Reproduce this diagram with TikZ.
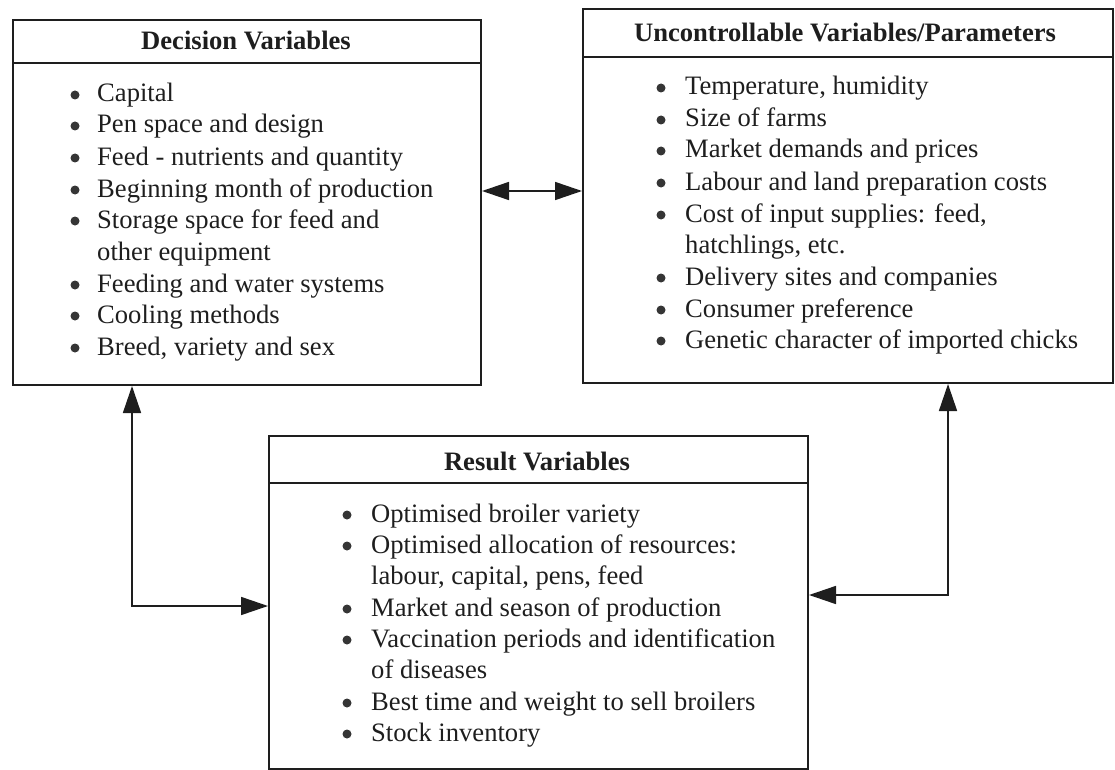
\documentclass[tikz,border=0pt]{standalone}
\usepackage{fontspec}
\setmainfont{Liberation Serif}
\usetikzlibrary{arrows.meta}
\definecolor{ink}{RGB}{30,30,30}
\tikzset{
  box/.style={draw=ink, line width=2pt, rectangle, inner sep=0pt, anchor=north west},
  hdr/.style={font=\bfseries\fontsize{26.6}{32}\selectfont, anchor=base, inner sep=0pt, text=ink},
  txt/.style={font=\fontsize{26.6}{32}\selectfont, anchor=base west, inner sep=0pt, text=ink},
  bul/.style={circle, fill=ink!90, draw=none, minimum size=9pt, inner sep=0pt},
  rule/.style={draw=ink, line width=2pt},
  conn/.style={draw=ink, line width=1.6pt, {Triangle[length=27pt,width=18pt]}-{Triangle[length=27pt,width=18pt]}}
}
\begin{document}
\begin{tikzpicture}[x=1pt,y=-1pt]
\useasboundingbox (0,0) rectangle (1115,770);
% boxes
\node[box, minimum width=468pt, minimum height=365pt] (dec) at (12,19) {};
\node[box, minimum width=530pt, minimum height=374pt] (unc) at (582,8) {};
\node[box, minimum width=539pt, minimum height=333pt] (res) at (268,435) {};
% header rules
\draw[rule] ([yshift=-44pt]dec.north west) -- ([yshift=-44pt]dec.north east);
\draw[rule] ([yshift=-49pt]unc.north west) -- ([yshift=-49pt]unc.north east);
\draw[rule] ([yshift=-48pt]res.north west) -- ([yshift=-48pt]res.north east);
% headers
\node[hdr] (dech) at (246,50) {Decision Variables};
\node[hdr] (unch) at (845,42) {Uncontrollable Variables/Parameters};
\node[hdr] (resh) at (537,470) {Result Variables};
% decision items
\foreach \y/\t [count=\i] in {102/Capital, 133/Pen space and design, 165/Feed - nutrients and quantity, 197/Beginning month of production, 228/Storage space for feed and, 260/other equipment, 292/Feeding and water systems, 323/Cooling methods, 355/{Breed, variety and sex}}
  \node[txt] (dt\i) at (97,\y) {\t};
\foreach \y [count=\i] in {102,133,165,197,228,292,323,355}
  \node[bul] (db\i) at (75,\y-7) {};
% uncontrollable items
\foreach \y/\t [count=\i] in {95/{Temperature, humidity}, 127/Size of farms, 158/Market demands and prices, 190/Labour and land preparation costs, 222/{Cost of input supplies: feed,}, 253/{hatchlings, etc.}, 285/Delivery sites and companies, 317/Consumer preference, 348/Genetic character of imported chicks}
  \node[txt] (ut\i) at (685,\y) {\t};
\foreach \y [count=\i] in {95,127,158,190,222,285,317,348}
  \node[bul] (ub\i) at (661,\y-7) {};
% result items
\foreach \y/\t [count=\i] in {522/Optimised broiler variety, 553/Optimised allocation of resources:, 584/{labour, capital, pens, feed}, 616/Market and season of production, 647/Vaccination periods and identification, 678/of diseases, 710/Best time and weight to sell broilers, 741/Stock inventory}
  \node[txt] (rt\i) at (371,\y) {\t};
\foreach \y [count=\i] in {522,553,616,647,710,741}
  \node[bul] (rb\i) at (347,\y-7) {};
% connectors
\draw[conn] ([yshift=11.5pt]dec.east) -- ([yshift=11.5pt]dec.east -| unc.west);
\draw[conn] ([xshift=-115pt]dec.south) |- ([yshift=-3.5pt]res.west);
\draw[conn] ([xshift=100pt]unc.south) |- ([yshift=7.5pt]res.east);
\end{tikzpicture}
\end{document}
